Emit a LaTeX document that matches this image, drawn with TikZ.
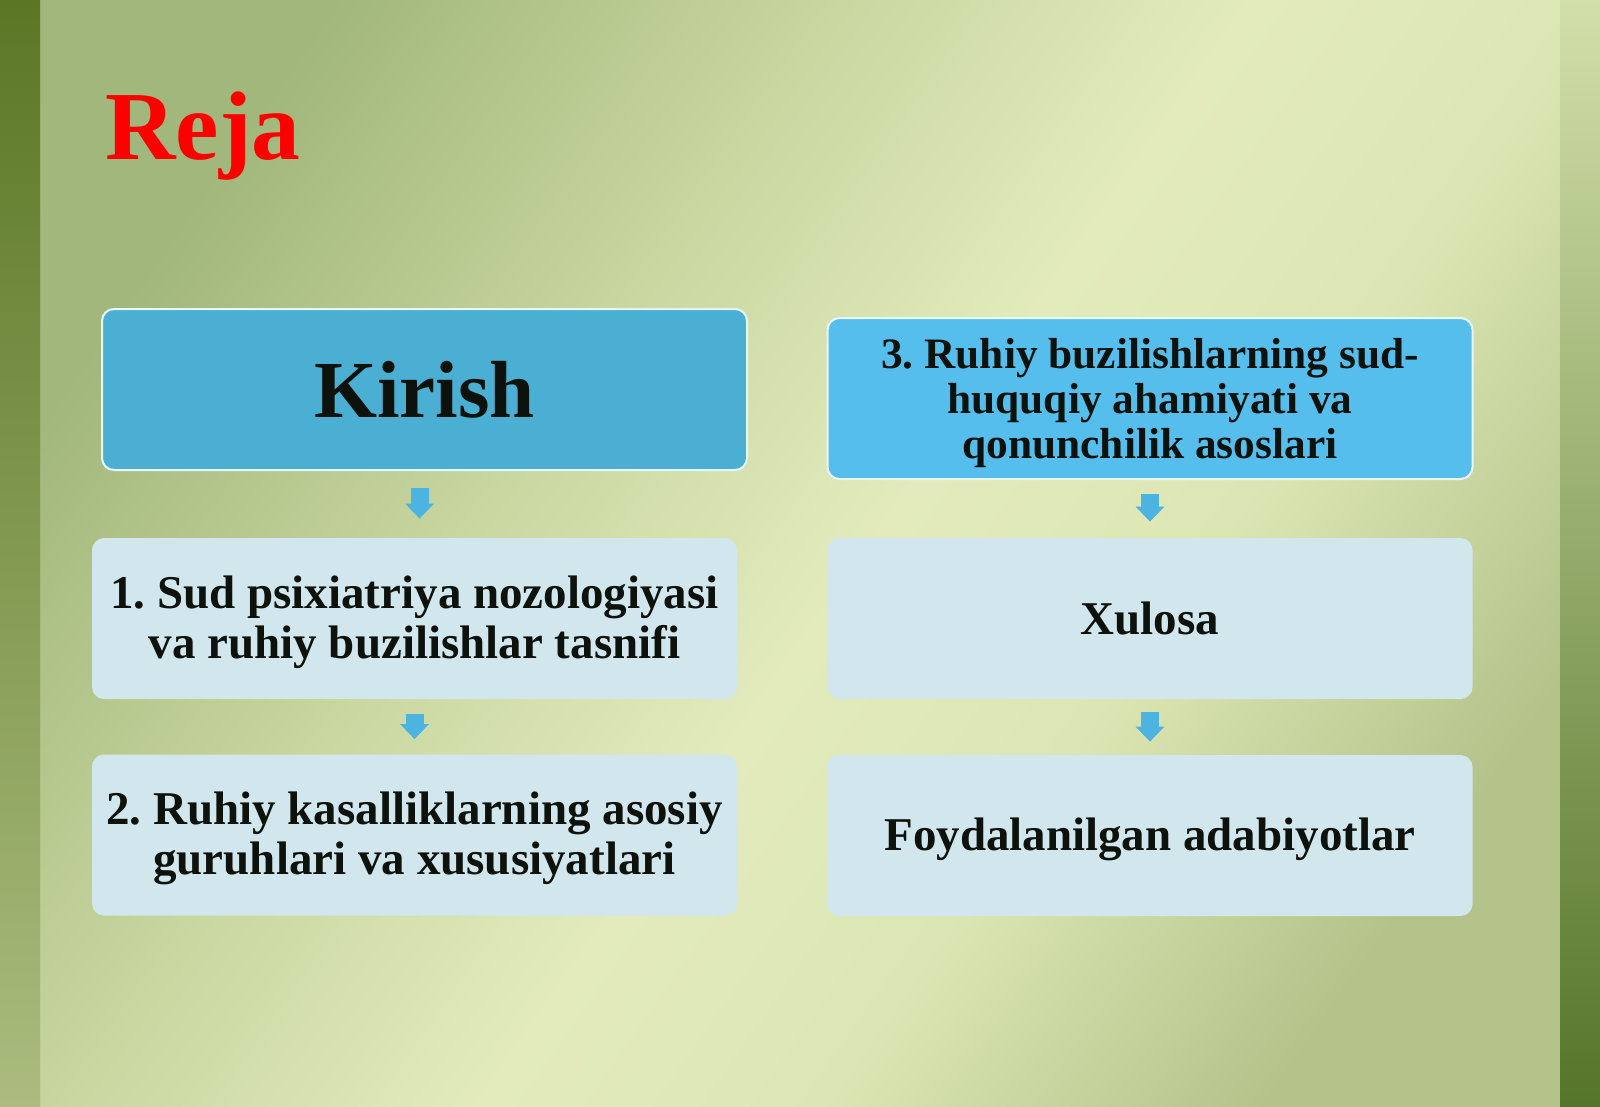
\documentclass[tikz,border=0pt]{standalone}
\usepackage{fontspec}
\setmainfont{Liberation Serif}
\usetikzlibrary{arrows.meta,calc}
\frenchspacing
\definecolor{bgA}{HTML}{A2B77B}
\definecolor{bgB}{HTML}{C9D7A1}
\definecolor{bgC}{HTML}{E3EBBD}
\definecolor{bgC2}{HTML}{DCE6B4}
\definecolor{bgD}{HTML}{B3C38A}
\definecolor{barLt}{HTML}{5B7726}
\definecolor{barLm}{HTML}{86A052}
\definecolor{barLb}{HTML}{ABBC7E}
\definecolor{barRt}{HTML}{D2DFAA}
\definecolor{barRm}{HTML}{86A052}
\definecolor{barRb}{HTML}{55752A}
\definecolor{kirishblue}{HTML}{4AAFD3}
\definecolor{topblue}{HTML}{55BEEC}
\definecolor{lightbox}{HTML}{D2E6EE}
\definecolor{boxedge}{HTML}{E6F7F8}
\definecolor{arrowblue}{HTML}{4DB4E2}
\definecolor{txt}{HTML}{0E120C}
\newcommand{\toppad}[1]{\rule{0pt}{#1}}
\pgfdeclarehorizontalshading{bgsh}{100bp}{color(0bp)=(bgA); color(25bp)=(bgA); color(40bp)=(bgB); color(52bp)=(bgC); color(62bp)=(bgC2); color(75bp)=(bgD); color(100bp)=(bgD)}
\begin{document}
\begin{tikzpicture}[x=0.5pt,y=-0.5pt,
  box/.style={rounded corners=6pt, minimum width=322.5pt, minimum height=80.5pt,
    align=center, inner sep=0pt, text=txt},
  darkbox/.style={box, fill=#1, draw=boxedge, line width=1pt},
  lightbx/.style={box, fill=lightbox},
  bigtext/.style={font=\fontsize{23.5}{25}\selectfont\bfseries},
  barrow/.style={draw=arrowblue, line width=9pt, -{Triangle[width=14pt,length=7.5pt]}}]
\useasboundingbox (0,0) rectangle (1600,1107);
\shade[shading=bgsh, shading angle=-35] (0,0) rectangle (1600,1107);
\shade[top color=barLt, middle color=barLm, bottom color=barLb] (0,0) rectangle (40,1107);
\shade[top color=barRt, middle color=barRm, bottom color=barRb] (1560,0) rectangle (1600,1107);

\node[anchor=base west, inner sep=0pt, text=red, font=\fontsize{48.8}{52}\selectfont\bfseries] (title) at (105,160) {Reja};

\node[darkbox=kirishblue, font=\fontsize{40.5}{44}\selectfont\bfseries] (k) at (424.5,389.5) {Kirish};
\node[lightbx, bigtext] (b1) at (414.5,618.5) {\toppad{20pt}1. Sud psixiatriya nozologiyasi\\va ruhiy buzilishlar tasnifi};
\node[lightbx, bigtext] (b2) at (414.5,835) {\toppad{20pt}2. Ruhiy kasalliklarning asosiy\\guruhlari va xususiyatlari};

\node[darkbox=topblue, font=\fontsize{21.7}{22.5}\selectfont\bfseries] (b3) at (1150,398.5) {\toppad{19.8pt}3. Ruhiy buzilishlarning sud-\\huquqiy ahamiyati va\\qonunchilik asoslari};
\node[lightbx, bigtext] (x) at (1150,618.5) {Xulosa};
\node[lightbx, bigtext] (f) at (1150,835.5) {\toppad{20pt}Foydalanilgan adabiyotlar};

\coordinate (m1) at ($(k.south)!0.5!(b1.north)$);
\draw[barrow, shorten <=8.5pt, shorten >=9.5pt] (k.south -| m1) -- (b1.north -| m1);
\draw[barrow, shorten <=7.5pt, shorten >=7.5pt] (b1.south) -- (b2.north);
\draw[barrow, shorten <=7pt, shorten >=8pt] (b3.south) -- (x.north);
\draw[barrow, shorten <=6.5pt, shorten >=6.5pt] (x.south) -- (f.north);
\end{tikzpicture}
\end{document}
